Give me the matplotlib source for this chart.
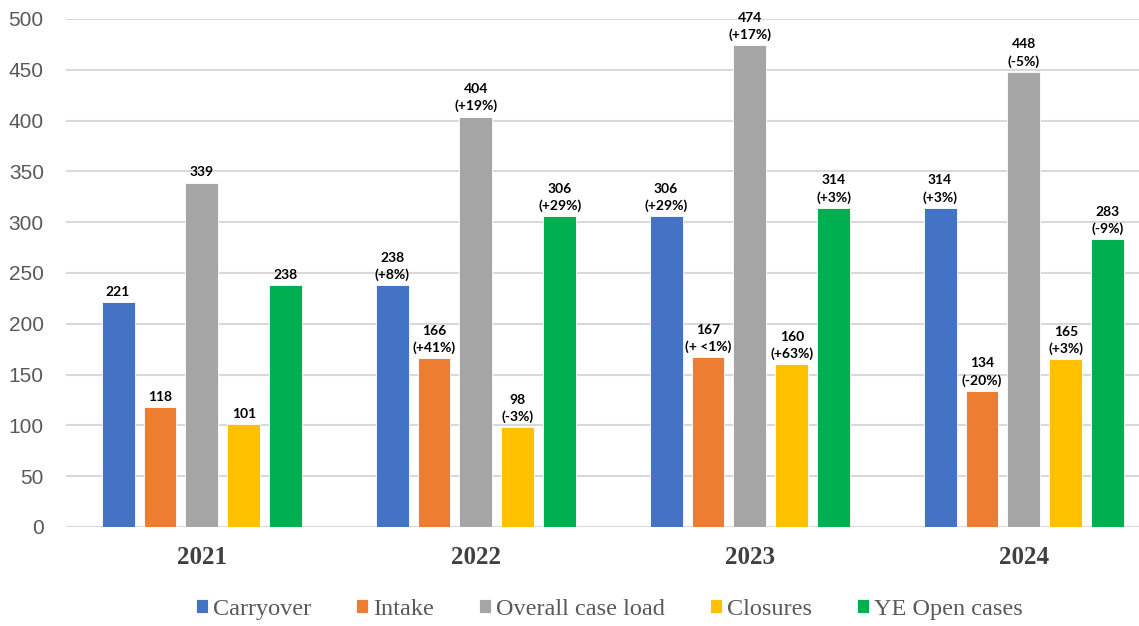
import numpy as np
import matplotlib.pyplot as plt

# Datos del grafico
years = ['2021', '2022', '2023', '2024']
series = ['Carryover', 'Intake', 'Overall case load', 'Closures', 'YE Open cases']
carryover = [221, 238, 306, 314]
intake = [118, 166, 167, 134]
overall = [339, 404, 474, 448]
closures = [101, 98, 160, 165]
ye_open = [238, 306, 314, 283]

carryover_pct = ['', '(+8%)', '(+29%)', '(+3%)']
intake_pct = ['', '(+41%)', '(+ <1%)', '(-20%)']
overall_pct = ['', '(+19%)', '(+17%)', '(-5%)']
closures_pct = ['', '(-3%)', '(+63%)', '(+3%)']
ye_open_pct = ['', '(+29%)', '(+3%)', '(-9%)']

colores = ['#4472C4', '#ED7D31', '#A5A5A5', '#FFC000', '#00B050']
valores = [carryover, intake, overall, closures, ye_open]
porcentajes = [carryover_pct, intake_pct, overall_pct, closures_pct, ye_open_pct]

fig = plt.figure(figsize=(11.39, 6.26), dpi=100)
ax = fig.add_axes([66 / 1139, 99 / 626, 1 - 66 / 1139, 508 / 626])

x = np.arange(len(years))
ancho = 0.12
paso = 0.153

for i, (nombre, vals, pcts, col) in enumerate(zip(series, valores, porcentajes, colores)):
    pos = x + (i - 2) * paso
    barras = ax.bar(pos, vals, width=ancho, color=col, label=nombre,
                    edgecolor='white', linewidth=0.6, zorder=3)
    for b, v, p in zip(barras, vals, pcts):
        texto = f"{v}\n{p}" if p else f"{v}"
        ax.annotate(texto, (b.get_x() + b.get_width() / 2, v),
                    xytext=(0, 3), textcoords='offset points',
                    ha='center', va='bottom', fontsize=10, fontweight='bold',
                    family=['Lato', 'DejaVu Sans'], linespacing=1.45,
                    color='black', clip_on=False, zorder=6)

ax.set_ylim(0, 500)
ax.set_xlim(-0.496, 3.42)
ax.set_yticks(range(0, 501, 50))
ax.grid(axis='y', color='#d9d9d9', linewidth=1.5, zorder=0)
ax.set_axisbelow(True)
for s in ax.spines.values():
    s.set_visible(False)
ax.axhline(0, color='#d9d9d9', linewidth=1.5, zorder=1)

ax.tick_params(axis='y', length=0, labelcolor='#595959', pad=16)
for t in ax.get_yticklabels():
    t.set_family('Liberation Sans')
    t.set_fontsize(15)
ax.tick_params(axis='x', length=0, pad=14)
ax.set_xticks(x)
ax.set_xticklabels(years, family='Liberation Serif', fontweight='bold',
                   fontsize=18, color='#404040')

fig.legend(loc='center', bbox_to_anchor=(0.535, 0.027), ncol=5, frameon=False,
           prop={'family': 'Liberation Serif', 'size': 17.5},
           labelcolor='#595959', handlelength=0.5, handleheight=0.5,
           handletextpad=0.2, columnspacing=1.85)

fig.savefig('out.png', dpi=100)
